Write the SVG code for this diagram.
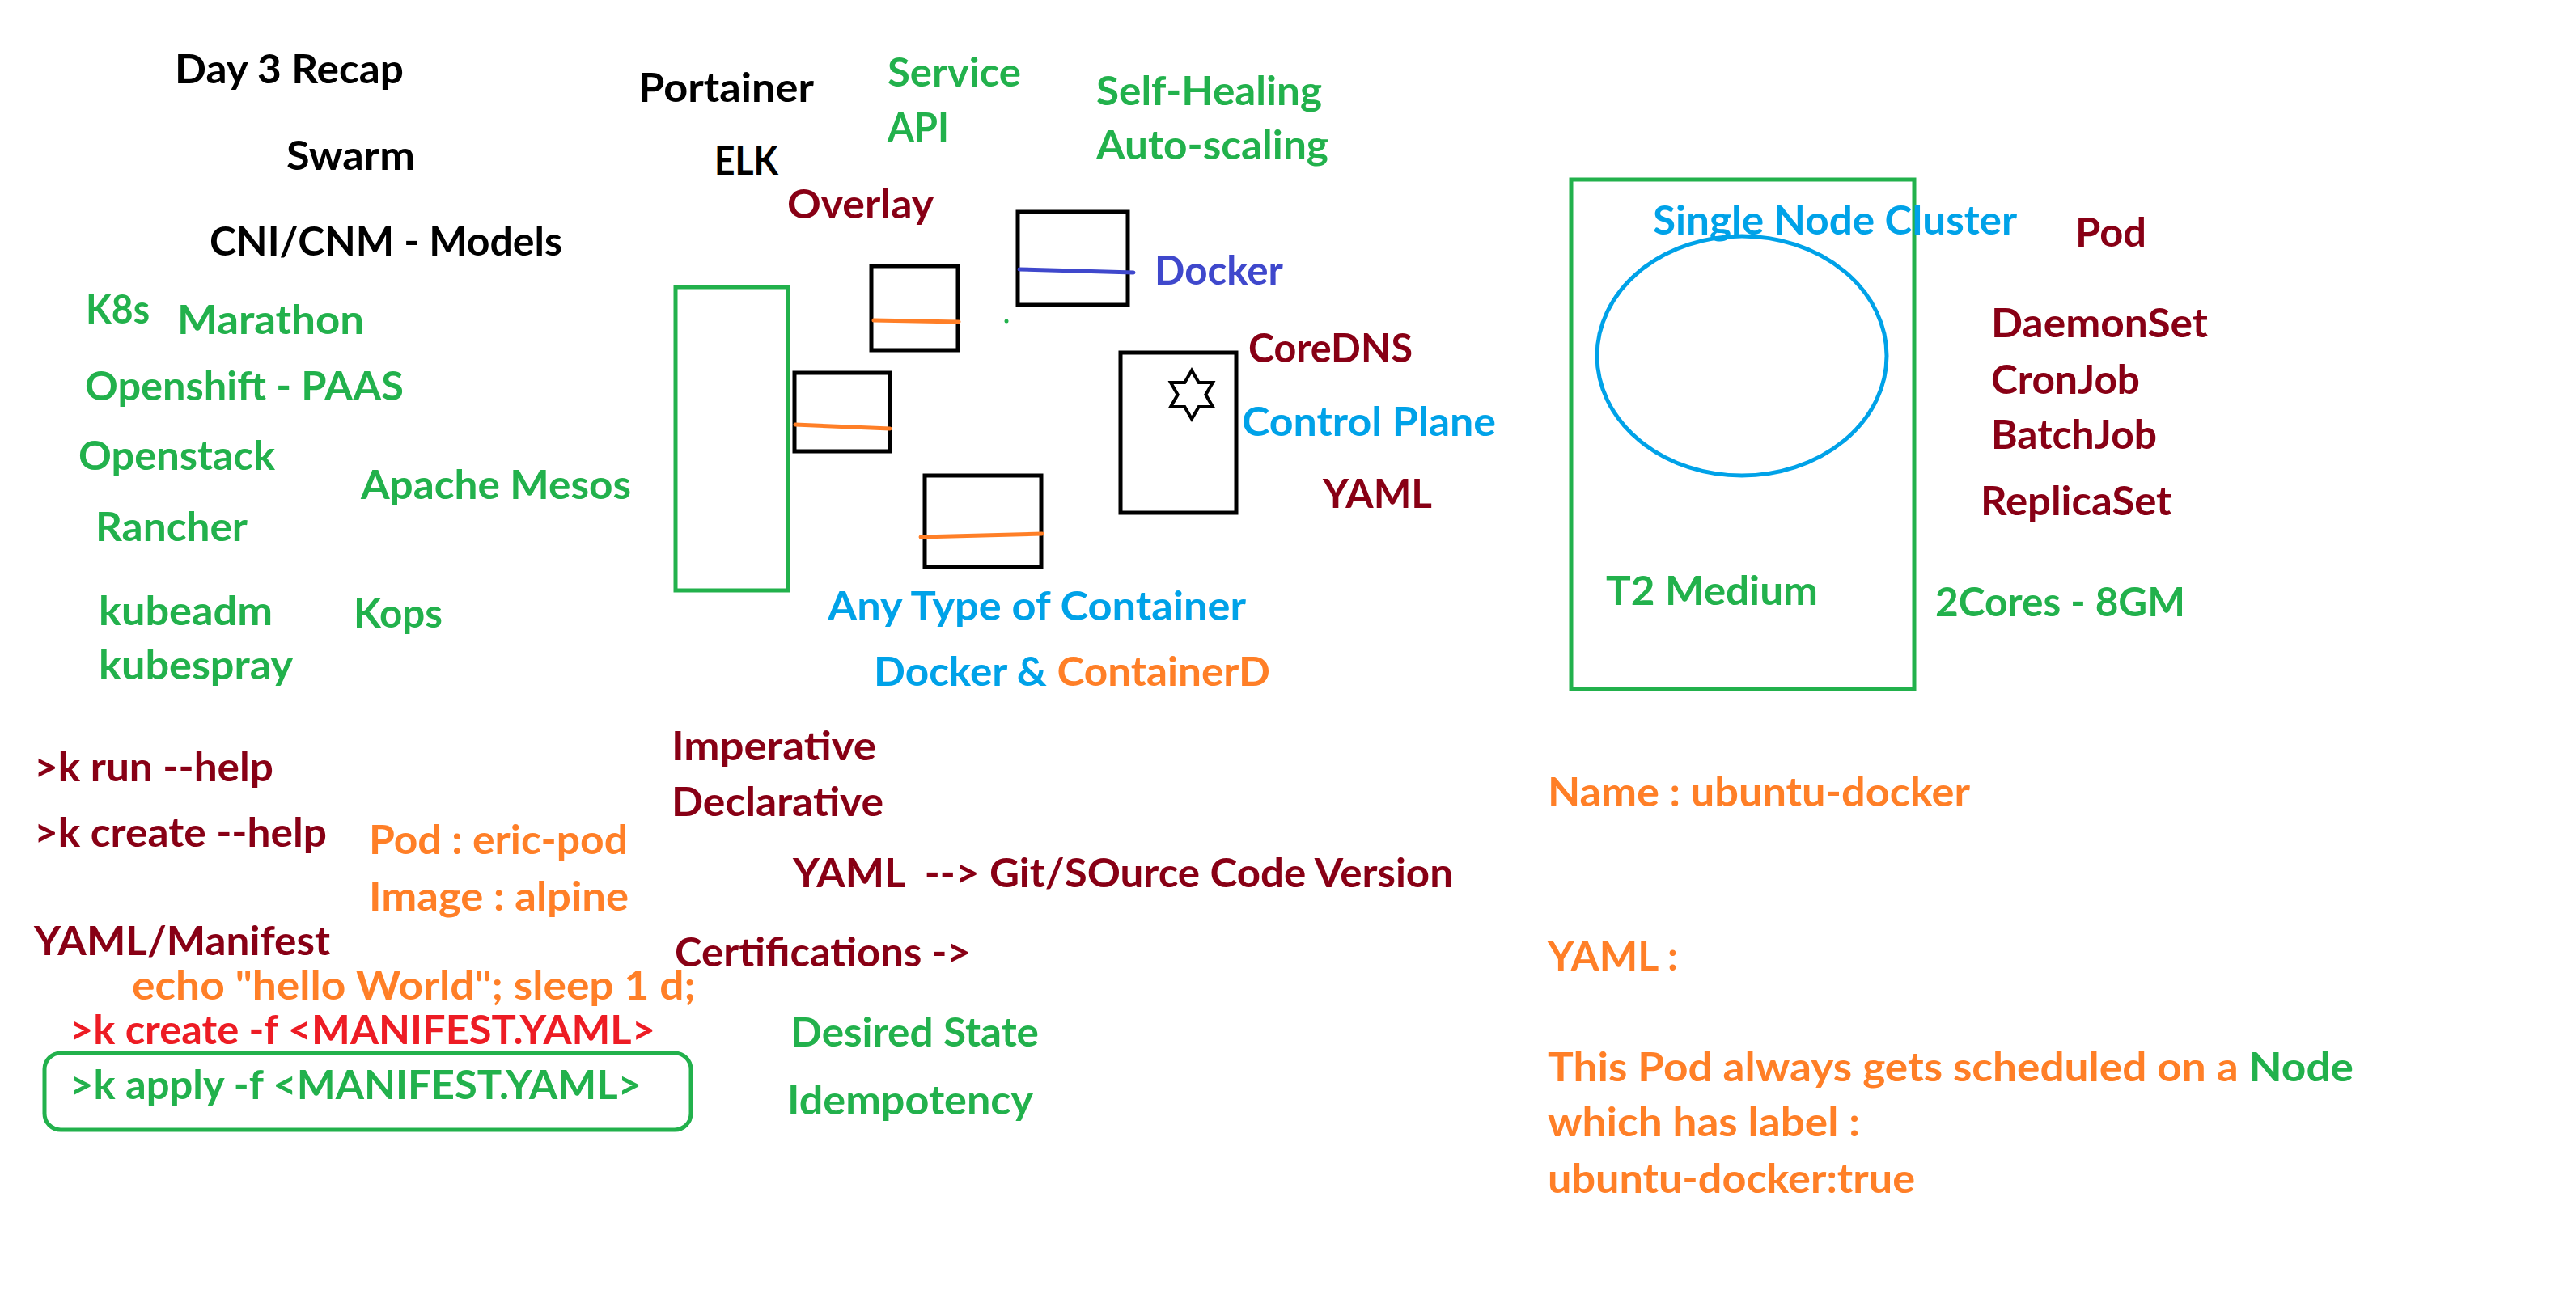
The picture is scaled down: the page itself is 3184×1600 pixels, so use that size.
<svg xmlns="http://www.w3.org/2000/svg" width="3184" height="1600" viewBox="0 0 3184 1600">
<style>
.t{font-family:Lato,"Liberation Sans","DejaVu Sans",sans-serif;font-weight:700;font-size:50px}
.k{fill:#000000}.dr{fill:#880015}.g{fill:#22B14C}.lb{fill:#00A2E8}.bl{fill:#3F48CC}.o{fill:#FF7F27}.r{fill:#ED1C24}
.box{fill:none;stroke:#000000;stroke-width:5}
.gbox{fill:none;stroke:#22B14C;stroke-width:5}
.oline{fill:none;stroke:#FF7F27;stroke-width:5;stroke-linecap:round}
</style>
<rect width="3184" height="1600" fill="#ffffff"/>
<g id="shapes">
  <rect id="green-column" class="gbox" x="835" y="355" width="139" height="375"/>
  <g id="box-docker">
    <rect class="box" x="1258" y="262" width="136" height="115"/>
    <line x1="1260" y1="333" x2="1401" y2="337" stroke="#3F48CC" stroke-width="5" stroke-linecap="round"/>
  </g>
  <g id="box-overlay">
    <rect class="box" x="1077" y="329" width="107" height="104"/>
    <line class="oline" x1="1080" y1="396" x2="1185" y2="398"/>
  </g>
  <circle id="dot" cx="1244" cy="397" r="2.5" fill="#22B14C"/>
  <g id="box-left">
    <rect class="box" x="982" y="461" width="118" height="97"/>
    <line class="oline" x1="983" y1="525" x2="1100" y2="530"/>
  </g>
  <g id="box-bottom">
    <rect class="box" x="1143" y="588" width="144" height="113"/>
    <line class="oline" x1="1138" y1="664" x2="1288" y2="660"/>
  </g>
  <g id="box-control-plane">
    <rect class="box" x="1385" y="436" width="143" height="198"/>
    <path d="M1473,458 L1481.7,473 L1499,473 L1490.3,488 L1499,503 L1481.7,503 L1473,518 L1464.3,503 L1447,503 L1455.7,488 L1447,473 L1464.3,473 Z" fill="none" stroke="#000000" stroke-width="4" stroke-linejoin="miter"/>
  </g>
  <g id="node-box">
    <rect class="gbox" x="1942" y="222" width="424" height="630"/>
    <ellipse cx="2153" cy="440" rx="179" ry="148" fill="none" stroke="#00A2E8" stroke-width="5"/>
  </g>
  <rect id="apply-box" x="55" y="1302" width="799" height="95" rx="20" ry="20" fill="none" stroke="#22B14C" stroke-width="5"/>
</g>
<g id="connectors"/>
<g id="texts" class="t">
  <g id="n-day3"><text class="k" x="216" y="103" textLength="283" lengthAdjust="spacingAndGlyphs">Day 3 Recap</text></g>
  <g id="n-swarm"><text class="k" x="354" y="210" textLength="159" lengthAdjust="spacingAndGlyphs">Swarm</text></g>
  <g id="n-cni"><text class="k" x="259" y="316" textLength="436" lengthAdjust="spacingAndGlyphs">CNI/CNM - Models</text></g>
  <g id="n-k8s"><text class="g" x="106" y="400" textLength="79" lengthAdjust="spacingAndGlyphs">K8s</text></g>
  <g id="n-marathon"><text class="g" x="219" y="413" textLength="231" lengthAdjust="spacingAndGlyphs">Marathon</text></g>
  <g id="n-openshift"><text class="g" x="105" y="495" textLength="394" lengthAdjust="spacingAndGlyphs">Openshift - PAAS</text></g>
  <g id="n-openstack"><text class="g" x="97" y="581" textLength="243" lengthAdjust="spacingAndGlyphs">Openstack</text></g>
  <g id="n-mesos"><text class="g" x="446" y="617" textLength="334" lengthAdjust="spacingAndGlyphs">Apache Mesos</text></g>
  <g id="n-rancher"><text class="g" x="118" y="669" textLength="188" lengthAdjust="spacingAndGlyphs">Rancher</text></g>
  <g id="n-kubeadm"><text class="g" x="122" y="773" textLength="215" lengthAdjust="spacingAndGlyphs">kubeadm</text></g>
  <g id="n-kops"><text class="g" x="437" y="776" textLength="110" lengthAdjust="spacingAndGlyphs">Kops</text></g>
  <g id="n-kubespray"><text class="g" x="122" y="840" textLength="240" lengthAdjust="spacingAndGlyphs">kubespray</text></g>
  <g id="n-run"><text class="dr" x="42" y="966" textLength="296" lengthAdjust="spacingAndGlyphs">&gt;k run --help</text></g>
  <g id="n-create-help"><text class="dr" x="42" y="1047" textLength="362" lengthAdjust="spacingAndGlyphs">&gt;k create --help</text></g>
  <g id="n-pod-name"><text class="o" x="456" y="1056" textLength="320" lengthAdjust="spacingAndGlyphs">Pod : eric-pod</text></g>
  <g id="n-image"><text class="o" x="456" y="1126" textLength="321" lengthAdjust="spacingAndGlyphs">Image : alpine</text></g>
  <g id="n-manifest"><text class="dr" x="42" y="1181" textLength="366" lengthAdjust="spacingAndGlyphs">YAML/Manifest</text></g>
  <g id="n-echo"><text class="o" x="163" y="1236" textLength="697" lengthAdjust="spacingAndGlyphs">echo "hello World"; sleep 1 d;</text></g>
  <g id="n-create-f"><text class="r" x="86" y="1291" textLength="724" lengthAdjust="spacingAndGlyphs">&gt;k create -f &lt;MANIFEST.YAML&gt;</text></g>
  <g id="n-apply"><text class="g" x="86" y="1359" textLength="707" lengthAdjust="spacingAndGlyphs">&gt;k apply -f &lt;MANIFEST.YAML&gt;</text></g>
  <g id="n-portainer"><text class="k" x="789" y="126" textLength="217" lengthAdjust="spacingAndGlyphs">Portainer</text></g>
  <g id="n-elk"><text class="k" x="883" y="216" textLength="79" lengthAdjust="spacingAndGlyphs">ELK</text></g>
  <g id="n-service"><text class="g" x="1097" y="107" textLength="165" lengthAdjust="spacingAndGlyphs">Service</text></g>
  <g id="n-api"><text class="g" x="1097" y="175" textLength="76" lengthAdjust="spacingAndGlyphs">API</text></g>
  <g id="n-selfheal"><text class="g" x="1355" y="130" textLength="279" lengthAdjust="spacingAndGlyphs">Self-Healing</text></g>
  <g id="n-autoscale"><text class="g" x="1355" y="197" textLength="287" lengthAdjust="spacingAndGlyphs">Auto-scaling</text></g>
  <g id="n-overlay"><text class="dr" x="973" y="270" textLength="181" lengthAdjust="spacingAndGlyphs">Overlay</text></g>
  <g id="n-docker"><text class="bl" x="1427" y="352" textLength="159" lengthAdjust="spacingAndGlyphs">Docker</text></g>
  <g id="n-coredns"><text class="dr" x="1543" y="448" textLength="203" lengthAdjust="spacingAndGlyphs">CoreDNS</text></g>
  <g id="n-controlplane"><text class="lb" x="1535" y="539" textLength="314" lengthAdjust="spacingAndGlyphs">Control Plane</text></g>
  <g id="n-yaml1"><text class="dr" x="1635" y="628" textLength="135" lengthAdjust="spacingAndGlyphs">YAML</text></g>
  <g id="n-anytype"><text class="lb" x="1023" y="767" textLength="517" lengthAdjust="spacingAndGlyphs">Any Type of Container</text></g>
  <g id="n-containerd"><text x="1080" y="848" textLength="490" lengthAdjust="spacingAndGlyphs"><tspan class="lb">Docker &amp; </tspan><tspan class="o">ContainerD</tspan></text></g>
  <g id="n-imperative"><text class="dr" x="830" y="940" textLength="253" lengthAdjust="spacingAndGlyphs">Imperative</text></g>
  <g id="n-declarative"><text class="dr" x="830" y="1009" textLength="262" lengthAdjust="spacingAndGlyphs">Declarative</text></g>
  <g id="n-git"><text class="dr" x="980" y="1097" textLength="816" lengthAdjust="spacingAndGlyphs" xml:space="preserve">YAML  --&gt; Git/SOurce Code Version</text></g>
  <g id="n-cert"><text class="dr" x="834" y="1195" textLength="366" lengthAdjust="spacingAndGlyphs">Certifications -&gt;</text></g>
  <g id="n-desired"><text class="g" x="977" y="1294" textLength="307" lengthAdjust="spacingAndGlyphs">Desired State</text></g>
  <g id="n-idem"><text class="g" x="973" y="1378" textLength="304" lengthAdjust="spacingAndGlyphs">Idempotency</text></g>
  <g id="n-single"><text class="lb" x="2043" y="290" textLength="450" lengthAdjust="spacingAndGlyphs">Single Node Cluster</text></g>
  <g id="n-pod"><text class="dr" x="2565" y="305" textLength="88" lengthAdjust="spacingAndGlyphs">Pod</text></g>
  <g id="n-daemonset"><text class="dr" x="2461" y="417" textLength="268" lengthAdjust="spacingAndGlyphs">DaemonSet</text></g>
  <g id="n-cronjob"><text class="dr" x="2461" y="487" textLength="184" lengthAdjust="spacingAndGlyphs">CronJob</text></g>
  <g id="n-batchjob"><text class="dr" x="2461" y="555" textLength="205" lengthAdjust="spacingAndGlyphs">BatchJob</text></g>
  <g id="n-replicaset"><text class="dr" x="2448" y="637" textLength="236" lengthAdjust="spacingAndGlyphs">ReplicaSet</text></g>
  <g id="n-t2"><text class="g" x="1985" y="748" textLength="262" lengthAdjust="spacingAndGlyphs">T2 Medium</text></g>
  <g id="n-cores"><text class="g" x="2392" y="762" textLength="309" lengthAdjust="spacingAndGlyphs">2Cores - 8GM</text></g>
  <g id="n-name"><text class="o" x="1913" y="997" textLength="522" lengthAdjust="spacingAndGlyphs">Name : ubuntu-docker</text></g>
  <g id="n-yaml2"><text class="o" x="1913" y="1200" textLength="161" lengthAdjust="spacingAndGlyphs">YAML :</text></g>
  <g id="n-thispod"><text x="1913" y="1337" textLength="996" lengthAdjust="spacingAndGlyphs"><tspan class="o">This Pod always gets scheduled on a </tspan><tspan class="g">Node</tspan></text></g>
  <g id="n-which"><text class="o" x="1913" y="1405" textLength="386" lengthAdjust="spacingAndGlyphs">which has label :</text></g>
  <g id="n-label"><text class="o" x="1913" y="1475" textLength="454" lengthAdjust="spacingAndGlyphs">ubuntu-docker:true</text></g>
</g>
</svg>
